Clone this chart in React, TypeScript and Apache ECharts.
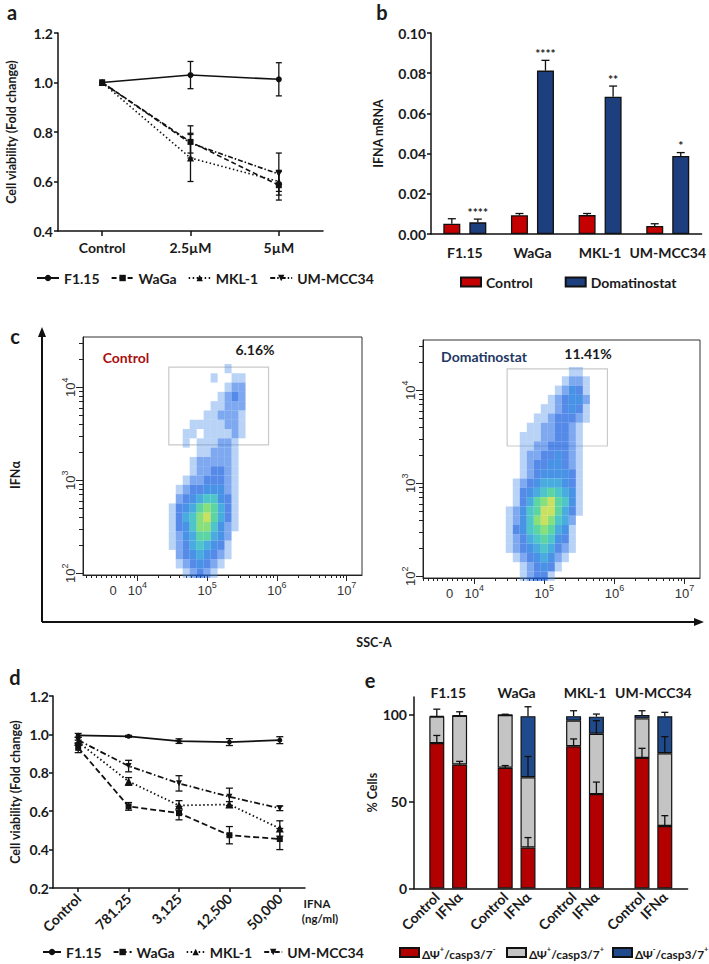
import React, { useEffect, useRef } from 'react';
import * as echarts from 'echarts';

// ---------- Panel a ----------
const aCategories = ['Control', '2.5µM', '5µM'];
const aF115 = [1.0, 1.03, 1.013];
const aF115Err = [0, 0.055, 0.067];
const aWaGa = [1.0, 0.76, 0.585];
const aWaGaErr = [0, 0.065, 0.06];
const aMKL1 = [1.0, 0.695, 0.6];
const aMKL1Err = [0, 0.095, 0.04];
const aUM = [1.0, 0.755, 0.63];
const aUMErr = [0, 0.04, 0.085];

// ---------- Panel b ----------
const bCategories = ['F1.15', 'WaGa', 'MKL-1', 'UM-MCC34'];
const bControl = [0.0051, 0.0093, 0.0094, 0.004];
const bControlErr = [0.0025, 0.0009, 0.0008, 0.0011];
const bDoma = [0.0058, 0.0813, 0.0683, 0.0388];
const bDomaErr = [0.0016, 0.0051, 0.0053, 0.0017];
const bStars = ['****', '****', '**', '*'];

// ---------- Panel c (flow cytometry density, log10 bins) ----------
const cBinX0 = 4.4; // log10 SSC-A of first column
const cBinY0 = 4.3; // log10 IFNα of first row
const cBinStep = 0.1;
const cControlGrid = [
  '00000000000000',
  '00000000010000',
  '00000001001100',
  '00000000012200',
  '00000000123200',
  '00000001122200',
  '00000011222100',
  '00001111122100',
  '00011011112100',
  '00010111221000',
  '00000112221000',
  '00001222221000',
  '00001223321000',
  '00012233321000',
  '00123344421000',
  '00234566431000',
  '01345787531000',
  '01356897531000',
  '01346886421000',
  '01245775420000',
  '01235654310000',
  '00234543210000',
  '00123432100000',
  '00012321000000',
];
const cDomaGrid = [
  '00000000000000',
  '00000000001100',
  '00000000012210',
  '00000000124310',
  '00000001234420',
  '00000011234310',
  '00000112333210',
  '00001122332100',
  '00011122332100',
  '00011223332100',
  '00012233432100',
  '00012334432100',
  '00012344443100',
  '00123455543100',
  '00134567654100',
  '00135789764100',
  '01246799753100',
  '01246898652000',
  '01346787541000',
  '01235676431000',
  '01234565321000',
  '00123454210000',
  '00012343100000',
  '00012331000000',
];
const cControlGate = [4.45, 3.38, 5.88, 4.215];
const cDomaGate = [4.47, 3.4, 5.9, 4.23];
const cControlPct = '6.16%';
const cDomaPct = '11.41%';
const cXLabelValues = [3.65, 4, 5, 6, 7];
const cYLabelValues = [2, 3, 4];

// ---------- Panel d ----------
const dCategories = ['Control', '781.25', '3,125', '12,500', '50,000'];
const dF115 = [0.995, 0.99, 0.965, 0.96, 0.97];
const dF115Err = [0.01, 0.005, 0.012, 0.018, 0.018];
const dWaGa = [0.93, 0.625, 0.59, 0.475, 0.455];
const dWaGaErr = [0.025, 0.02, 0.035, 0.045, 0.055];
const dMKL1 = [0.96, 0.755, 0.63, 0.635, 0.51];
const dMKL1Err = [0.01, 0.02, 0.025, 0.015, 0.04];
const dUM = [0.97, 0.835, 0.745, 0.675, 0.615];
const dUMErr = [0.015, 0.03, 0.04, 0.045, 0.012];

// ---------- Panel e ----------
const eGroups = ['F1.15', 'WaGa', 'MKL-1', 'UM-MCC34'];
const eConditions = ['Control', 'IFNα'];
const eRed = [83.5, 71.2, 69.3, 23.5, 81.7, 54.2, 75.0, 35.9];
const eGray = [15.2, 28.0, 30.3, 40.4, 14.7, 34.7, 22.7, 41.8];
const eBlue = [0.4, 0.3, 0.2, 35.1, 2.6, 9.8, 1.9, 21.2];
const eRedErr = [4.4, 1.8, 1.3, 5.7, 4.2, 6.9, 5.5, 5.9];
const eGrayErr = [4.3, 2.3, 0.5, 11.9, 0, 7.5, 0, 9.5];
const eBlueErr = [0, 0, 0, 5.4, 3.1, 1.5, 2.5, 2.3];
const eSeriesNames = ['ΔΨ+/casp3/7-', 'ΔΨ+/casp3/7+', 'ΔΨ-/casp3/7+'];

// ---------- styles ----------
const FONT = 'Lato, "Open Sans", "Noto Sans", sans-serif';
const FLOWFONT = '"Liberation Sans", Arial, sans-serif';
const TXT = '#1a1a1a';
const DENS_COLORS = [
  'rgba(0,0,0,0)',
  'rgba(80,145,236,0.5)',
  'rgba(40,112,230,0.75)',
  'rgba(24,96,224,0.92)',
  '#1a78de',
  '#1a98d6',
  '#20b6bc',
  '#33ca8c',
  '#6cd85a',
  '#bcd83a',
];

function buildOption() {
  const axLine = { show: true, lineStyle: { color: '#111', width: 1.5 } };
  const tickLine = { color: '#111', width: 1.5 };
  const tickLabel = { color: TXT, fontSize: 14, fontWeight: 'bold', fontFamily: FONT };
  const nameStyle = { color: TXT, fontSize: 12.5, fontWeight: 'bold', fontFamily: FONT };

  const errBars = (o: any) => ({
    type: 'custom',
    xAxisIndex: o.xAxisIndex,
    yAxisIndex: o.yAxisIndex,
    silent: true,
    z: 10,
    clip: false,
    encode: { x: 0, y: 1 },
    data: o.data,
    renderItem: (params: any, api: any) => {
      const x = api.value(0);
      const y = api.value(1);
      const lo = api.value(2);
      const hi = api.value(3);
      const mid = api.coord([x, y]);
      const top = api.coord([x, y + hi]);
      const bot = api.coord([x, y - lo]);
      const cx = mid[0] + (o.offset || 0);
      const cap = o.cap || 6;
      const st = { stroke: '#111', lineWidth: o.lw || 1.3 };
      const ch: any[] = [];
      if (hi > 0) {
        ch.push({ type: 'line', shape: { x1: cx, y1: mid[1], x2: cx, y2: top[1] }, style: st });
        ch.push({ type: 'line', shape: { x1: cx - cap / 2, y1: top[1], x2: cx + cap / 2, y2: top[1] }, style: st });
      }
      if (o.both && lo > 0) {
        ch.push({ type: 'line', shape: { x1: cx, y1: mid[1], x2: cx, y2: bot[1] }, style: st });
        ch.push({ type: 'line', shape: { x1: cx - cap / 2, y1: bot[1], x2: cx + cap / 2, y2: bot[1] }, style: st });
      }
      if (o.stars) {
        ch.push({
          type: 'text',
          style: {
            text: o.stars[params.dataIndex],
            x: cx,
            y: top[1] - 1,
            align: 'center',
            verticalAlign: 'bottom',
            fill: TXT,
            font: 'bold 12px ' + FONT,
          },
        });
      }
      return { type: 'group', children: ch };
    },
  });

  const lineSeries = (name: string, data: number[], xi: number, symbol: string, size: number, type: any, rot = 0, width = 1.6) => ({
    type: 'line',
    name,
    xAxisIndex: xi,
    yAxisIndex: xi === 0 ? 0 : 6,
    data,
    symbol,
    symbolSize: size,
    symbolRotate: rot,
    lineStyle: { color: '#111', width, type },
    itemStyle: { color: '#111' },
    z: 5,
  });

  const errData = (vals: number[], errs: number[]) => vals.map((v, i) => [i, v, errs[i], errs[i]]);

  // flow cytometry
  const gridToData = (g: string[]) => {
    const out: number[][] = [];
    g.forEach((row, r) => {
      for (let c = 0; c < row.length; c++) {
        const d = Number(row[c]);
        if (d > 0) out.push([+(cBinX0 + c * cBinStep).toFixed(2), +(cBinY0 - r * cBinStep).toFixed(2), d]);
      }
    });
    return out;
  };
  const log10 = (v: number) => Math.log(v) / Math.LN10;
  const minorLog = (decades: number[], extra: number[]) => {
    const out: number[] = [];
    decades.forEach((d) => {
      for (let k = 2; k <= 9; k++) out.push(d + log10(k));
    });
    return out.concat(extra);
  };
  const minorX = [3.27, 3.34, 3.41, 3.48, 3.55, 3.62, 3.69, 3.76, 3.83, 3.9, 3.96].concat(minorLog([4, 5, 6], []));
  const minorY = minorLog([2, 3], [4 + log10(2), 4 + log10(3)]);
  const supRich = {
    b: { fontSize: 13, lineHeight: 17, color: '#333', fontFamily: FLOWFONT, verticalAlign: 'bottom' },
    s: { fontSize: 9, lineHeight: 10, color: '#333', fontFamily: FLOWFONT, verticalAlign: 'top' },
  };
  const flowXAxes = (gi: number, min: number, max: number) => [
    {
      type: 'value', gridIndex: gi, min, max, position: 'bottom',
      axisLine: { show: true, onZero: false, lineStyle: { color: '#222', width: 1 } },
      axisTick: { show: true, customValues: [4, 5, 6, 7], length: 6, lineStyle: { color: '#222', width: 1 } },
      axisLabel: {
        show: true, customValues: cXLabelValues, margin: 5, rich: supRich,
        formatter: (v: number) => (v < 3.9 ? '{b|0}' : '{b|10}{s|' + Math.round(v) + '}'),
      },
      splitLine: { show: false },
    },
    {
      type: 'value', gridIndex: gi, min, max, position: 'bottom',
      axisLine: { show: false, onZero: false },
      axisTick: { show: true, customValues: minorX, length: 3, lineStyle: { color: '#222', width: 1 } },
      axisLabel: { show: false },
      splitLine: { show: false },
    },
  ];
  const flowYAxes = (gi: number) => [
    {
      type: 'value', gridIndex: gi, min: 1.98, max: 4.54, position: 'left',
      axisLine: { show: true, onZero: false, lineStyle: { color: '#222', width: 1 } },
      axisTick: { show: true, customValues: [2, 3, 4], length: 7, lineStyle: { color: '#222', width: 1 } },
      axisLabel: {
        show: true, customValues: cYLabelValues, rotate: 90, margin: 6, rich: supRich,
        formatter: (v: number) => '{b|10}{s|' + Math.round(v) + '}',
      },
      splitLine: { show: false },
    },
    {
      type: 'value', gridIndex: gi, min: 1.98, max: 4.54, position: 'left',
      axisLine: { show: false, onZero: false },
      axisTick: { show: true, customValues: minorY, length: 4, lineStyle: { color: '#222', width: 1 } },
      axisLabel: { show: false },
      splitLine: { show: false },
    },
  ];
  const flowSeries = (xi: number, grid: string[], gate: number[]) => ({
    type: 'scatter',
    xAxisIndex: xi,
    yAxisIndex: xi,
    silent: true,
    symbol: 'rect',
    symbolSize: [7, 9.3],
    data: gridToData(grid),
    itemStyle: { color: (p: any) => DENS_COLORS[p.value[2]] },
    markArea: {
      silent: true,
      label: { show: false },
      itemStyle: { color: 'rgba(0,0,0,0)', borderColor: '#c9c9c9', borderWidth: 1.2 },
      data: [[{ coord: [gate[0], gate[1]] }, { coord: [gate[2], gate[3]] }]],
    },
  });

  // panel e
  const eCategories: string[] = [];
  const eIdx: number[] = [];
  eGroups.forEach((g, gi) => {
    eCategories.push('sp' + gi);
    eConditions.forEach((c) => {
      eIdx.push(eCategories.length);
      eCategories.push(g + '|' + c);
    });
  });
  eCategories.push('sp_end');
  const eSeriesData = (vals: number[]) => {
    const arr: any[] = eCategories.map(() => null);
    vals.forEach((v, i) => (arr[eIdx[i]] = v));
    return arr;
  };
  const eErr: number[][] = [];
  eRed.forEach((r, i) => {
    const g = r + eGray[i];
    const t = g + eBlue[i];
    eErr.push([eIdx[i], r, 0, eRedErr[i]]);
    eErr.push([eIdx[i], g, 0, eGrayErr[i]]);
    eErr.push([eIdx[i], t, 0, eBlueErr[i]]);
  });
  const eColors = ['#b20000', '#c4c4c4', '#1f4a8c'];
  const eRich: Record<string, string> = {
    'ΔΨ+/casp3/7-': '{n|ΔΨ}{s|+}{n|/casp3/7}{s|-}',
    'ΔΨ+/casp3/7+': '{n|ΔΨ}{s|+}{n|/casp3/7}{s|+}',
    'ΔΨ-/casp3/7+': '{n|ΔΨ}{s|-}{n|/casp3/7}{s|+}',
  };
  const eLegendLeft = [394, 501, 607];

  const legendText = { color: TXT, fontSize: 14, fontWeight: 'bold', fontFamily: FONT };
  const lineNames = ['F1.15', 'WaGa', 'MKL-1', 'UM-MCC34'];

  return {
    animation: false,
    backgroundColor: '#ffffff',
    textStyle: { fontFamily: FONT },
    grid: [
      { left: 58, top: 33, width: 265, height: 198 },
      { left: 431, top: 33, width: 271, height: 201 },
      { left: 83, top: 337, width: 279, height: 238, show: true, borderColor: '#333', borderWidth: 1, backgroundColor: 'rgba(0,0,0,0)' },
      { left: 423, top: 340, width: 277, height: 238, show: true, borderColor: '#333', borderWidth: 1, backgroundColor: 'rgba(0,0,0,0)' },
      { left: 53, top: 696, width: 252, height: 192 },
      { left: 414, top: 697, width: 273.6, height: 191.4 },
    ],
    xAxis: [
      {
        type: 'category', gridIndex: 0, data: aCategories, boundaryGap: true,
        axisLine: axLine, axisTick: { show: true, alignWithLabel: true, length: 5, lineStyle: tickLine },
        axisLabel: { ...tickLabel, margin: 9, interval: 0 },
      },
      {
        type: 'category', gridIndex: 1, data: bCategories, boundaryGap: true,
        axisLine: axLine, axisTick: { show: false },
        axisLabel: { ...tickLabel, margin: 11, interval: 0, hideOverlap: false },
      },
      ...flowXAxes(2, 3.22, 7.22),
      ...flowXAxes(3, 3.27, 7.22),
      {
        type: 'category', gridIndex: 4, data: dCategories, boundaryGap: true,
        axisLine: axLine, axisTick: { show: true, alignWithLabel: true, length: 4, lineStyle: tickLine },
        axisLabel: { ...tickLabel, rotate: 45, margin: 8, interval: 0 },
      },
      {
        type: 'category', gridIndex: 5, data: eCategories, boundaryGap: false,
        axisLine: axLine, axisTick: { show: false },
        axisLabel: { ...tickLabel, rotate: 45, margin: 6, interval: 0, formatter: (v: string) => v.split('|')[1] || '' },
      },
      {
        type: 'value', gridIndex: 5, position: 'top', min: 0, max: eCategories.length - 1,
        axisLine: { show: false }, axisTick: { show: false }, splitLine: { show: false },
        axisLabel: {
          ...tickLabel, margin: -2, customValues: eGroups.map((_, i) => 3 * i + 1.5),
          formatter: (v: number) => eGroups[Math.round((v - 1.5) / 3)] || '',
        },
      },
    ],
    yAxis: [
      {
        type: 'value', gridIndex: 0, min: 0.4, max: 1.2, interval: 0.2,
        axisLine: axLine, axisTick: { show: true, length: 4, lineStyle: tickLine },
        axisLabel: { ...tickLabel, margin: 5, formatter: (v: number) => v.toFixed(1) },
        splitLine: { show: false },
        name: 'Cell viability (Fold change)', nameLocation: 'middle', nameGap: 40, nameTextStyle: nameStyle,
      },
      {
        type: 'value', gridIndex: 1, min: 0, max: 0.1, interval: 0.02,
        axisLine: axLine, axisTick: { show: true, length: 4, lineStyle: tickLine },
        axisLabel: { ...tickLabel, margin: 5, formatter: (v: number) => v.toFixed(2) },
        splitLine: { show: false },
        name: 'IFNA mRNA', nameLocation: 'middle', nameGap: 46, nameTextStyle: nameStyle,
      },
      ...flowYAxes(2),
      ...flowYAxes(3),
      {
        type: 'value', gridIndex: 4, min: 0.2, max: 1.2, interval: 0.2,
        axisLine: axLine, axisTick: { show: true, length: 4, lineStyle: tickLine },
        axisLabel: { ...tickLabel, margin: 4, formatter: (v: number) => v.toFixed(1) },
        splitLine: { show: false },
        name: 'Cell viability (Fold change)', nameLocation: 'middle', nameGap: 31, nameTextStyle: nameStyle,
      },
      {
        type: 'value', gridIndex: 5, min: 0, max: 110,
        axisLine: axLine,
        axisTick: { show: true, length: 5, lineStyle: tickLine, customValues: [0, 50, 100] },
        axisLabel: { ...tickLabel, margin: 7, customValues: [0, 50, 100] },
        splitLine: { show: false },
        name: '% Cells', nameLocation: 'middle', nameGap: 31, nameTextStyle: nameStyle,
      },
    ],
    legend: [
      {
        left: 31, top: 266, itemWidth: 22, itemHeight: 8, itemGap: 11, data: lineNames,
        textStyle: legendText, selectedMode: false,
      },
      {
        left: 455, top: 270, itemWidth: 20, itemHeight: 9, itemGap: 32, icon: 'rect',
        data: ['Control', 'Domatinostat'], textStyle: legendText, selectedMode: false,
      },
      {
        left: 37, top: 940, itemWidth: 18, itemHeight: 8, itemGap: 11, data: lineNames,
        textStyle: legendText, selectedMode: false,
      },
      ...eSeriesNames.map((nm, k) => ({
        left: eLegendLeft[k], top: 940, itemWidth: 19, itemHeight: 9, itemGap: 5, icon: 'rect',
        data: [nm], selectedMode: false,
        formatter: (n: string) => eRich[n] || n,
        textStyle: {
          ...legendText,
          padding: [0, 0, 0, -2],
          rich: {
            n: { fontSize: 12, fontWeight: 'bold', fontFamily: FONT, color: TXT, lineHeight: 15, verticalAlign: 'bottom' },
            s: { fontSize: 7.5, fontWeight: 'bold', fontFamily: FONT, color: TXT, lineHeight: 8, verticalAlign: 'top' },
          },
        },
      })),
    ],
    series: [
      // panel a
      lineSeries('F1.15', aF115, 0, 'circle', 6, 'solid'),
      lineSeries('WaGa', aWaGa, 0, 'rect', 6, [5, 3]),
      lineSeries('MKL-1', aMKL1, 0, 'triangle', 7, [1.5, 2.5]),
      lineSeries('UM-MCC34', aUM, 0, 'triangle', 6, [5, 2, 1.5, 2], 180),
      errBars({ xAxisIndex: 0, yAxisIndex: 0, data: errData(aF115, aF115Err), both: true, cap: 6 }),
      errBars({ xAxisIndex: 0, yAxisIndex: 0, data: errData(aWaGa, aWaGaErr), both: true, cap: 6 }),
      errBars({ xAxisIndex: 0, yAxisIndex: 0, data: errData(aMKL1, aMKL1Err), both: true, cap: 6 }),
      errBars({ xAxisIndex: 0, yAxisIndex: 0, data: errData(aUM, aUMErr), both: true, cap: 6 }),
      // panel b
      {
        type: 'bar', name: 'Control', xAxisIndex: 1, yAxisIndex: 1, data: bControl,
        barWidth: 17, barGap: '53%',
        itemStyle: { color: '#c40000', borderColor: '#111', borderWidth: 1.3 },
      },
      {
        type: 'bar', name: 'Domatinostat', xAxisIndex: 1, yAxisIndex: 1, data: bDoma,
        barWidth: 17, barGap: '53%',
        itemStyle: { color: '#1d3f7e', borderColor: '#111', borderWidth: 1.3 },
      },
      errBars({ xAxisIndex: 1, yAxisIndex: 1, data: errData(bControl, bControlErr), offset: -13, cap: 8 }),
      errBars({ xAxisIndex: 1, yAxisIndex: 1, data: errData(bDoma, bDomaErr), offset: 13, cap: 8, stars: bStars }),
      // panel c
      flowSeries(2, cControlGrid, cControlGate),
      flowSeries(4, cDomaGrid, cDomaGate),
      // panel d
      lineSeries('F1.15', dF115, 6, 'circle', 5, 'solid', 0, 1.8),
      lineSeries('WaGa', dWaGa, 6, 'rect', 6, [6, 3], 0, 1.8),
      lineSeries('MKL-1', dMKL1, 6, 'triangle', 8, [1.5, 2.5], 0, 1.8),
      lineSeries('UM-MCC34', dUM, 6, 'triangle', 6, [6, 2.5, 1.5, 2.5], 180, 1.8),
      errBars({ xAxisIndex: 6, yAxisIndex: 6, data: errData(dF115, dF115Err), both: true, cap: 7 }),
      errBars({ xAxisIndex: 6, yAxisIndex: 6, data: errData(dWaGa, dWaGaErr), both: true, cap: 7 }),
      errBars({ xAxisIndex: 6, yAxisIndex: 6, data: errData(dMKL1, dMKL1Err), both: true, cap: 7 }),
      errBars({ xAxisIndex: 6, yAxisIndex: 6, data: errData(dUM, dUMErr), both: true, cap: 7 }),
      // panel e
      ...[eRed, eGray, eBlue].map((vals, k) => ({
        type: 'bar', name: eSeriesNames[k], xAxisIndex: 7, yAxisIndex: 7, stack: 'e',
        data: eSeriesData(vals), barWidth: 15,
        itemStyle: { color: eColors[k], borderColor: '#111', borderWidth: 1.2 },
      })),
      errBars({ xAxisIndex: 7, yAxisIndex: 7, data: eErr, cap: 7 }),
    ],
    graphic: [
      { type: 'text', x: 12, y: 12, style: { text: 'a', font: 'bold 20px ' + FONT, fill: TXT, align: 'center', verticalAlign: 'middle' } },
      { type: 'text', x: 382, y: 12, style: { text: 'b', font: 'bold 20px ' + FONT, fill: TXT, align: 'center', verticalAlign: 'middle' } },
      { type: 'text', x: 15, y: 336, style: { text: 'c', font: 'bold 20px ' + FONT, fill: TXT, align: 'center', verticalAlign: 'middle' } },
      { type: 'text', x: 15, y: 677, style: { text: 'd', font: 'bold 20px ' + FONT, fill: TXT, align: 'center', verticalAlign: 'middle' } },
      { type: 'text', x: 370, y: 680, style: { text: 'e', font: 'bold 20px ' + FONT, fill: TXT, align: 'center', verticalAlign: 'middle' } },
      // panel c arrows and titles
      { type: 'line', shape: { x1: 42, y1: 335, x2: 42, y2: 622 }, style: { stroke: '#111', lineWidth: 2 } },
      { type: 'polygon', shape: { points: [[42, 327], [38, 337], [46, 337]] }, style: { fill: '#111' } },
      { type: 'line', shape: { x1: 42, y1: 622, x2: 696, y2: 622 }, style: { stroke: '#111', lineWidth: 2 } },
      { type: 'polygon', shape: { points: [[704, 622], [694, 618], [694, 626]] }, style: { fill: '#111' } },
      { type: 'text', x: 15, y: 475, rotation: Math.PI / 2, style: { text: 'IFNα', font: 'bold 12.5px ' + FONT, fill: TXT, align: 'center', verticalAlign: 'middle' } },
      { type: 'text', x: 374, y: 642, style: { text: 'SSC-A', font: 'bold 12.5px ' + FONT, fill: TXT, align: 'center', verticalAlign: 'middle' } },
      { type: 'text', x: 126, y: 357, style: { text: 'Control', font: 'bold 14px ' + FONT, fill: '#a80f0f', align: 'center', verticalAlign: 'middle' } },
      { type: 'text', x: 255, y: 349, style: { text: cControlPct, font: 'bold 14px ' + FONT, fill: TXT, align: 'center', verticalAlign: 'middle' } },
      { type: 'text', x: 484, y: 356, style: { text: 'Domatinostat', font: 'bold 14px ' + FONT, fill: '#1f3864', align: 'center', verticalAlign: 'middle' } },
      { type: 'text', x: 588, y: 353, style: { text: cDomaPct, font: 'bold 14px ' + FONT, fill: TXT, align: 'center', verticalAlign: 'middle' } },
      // panel d unit
      { type: 'text', x: 317, y: 903, style: { text: 'IFNA', font: 'bold 11.5px ' + FONT, fill: TXT, align: 'center', verticalAlign: 'middle' } },
      { type: 'text', x: 320, y: 918, style: { text: '(ng/ml)', font: 'bold 11.5px ' + FONT, fill: TXT, align: 'center', verticalAlign: 'middle' } },
    ],
  };
}

export default function App() {
  const ref = useRef<HTMLDivElement>(null);
  useEffect(() => {
    if (!ref.current) return;
    const chart = echarts.init(ref.current, undefined, { renderer: 'svg' });
    chart.setOption(buildOption() as any);
    return () => chart.dispose();
  }, []);
  return (
    <div
      ref={ref}
      style={{ position: 'absolute', left: 0, top: 0, width: 709, height: 964, background: '#fff' }}
    />
  );
}
